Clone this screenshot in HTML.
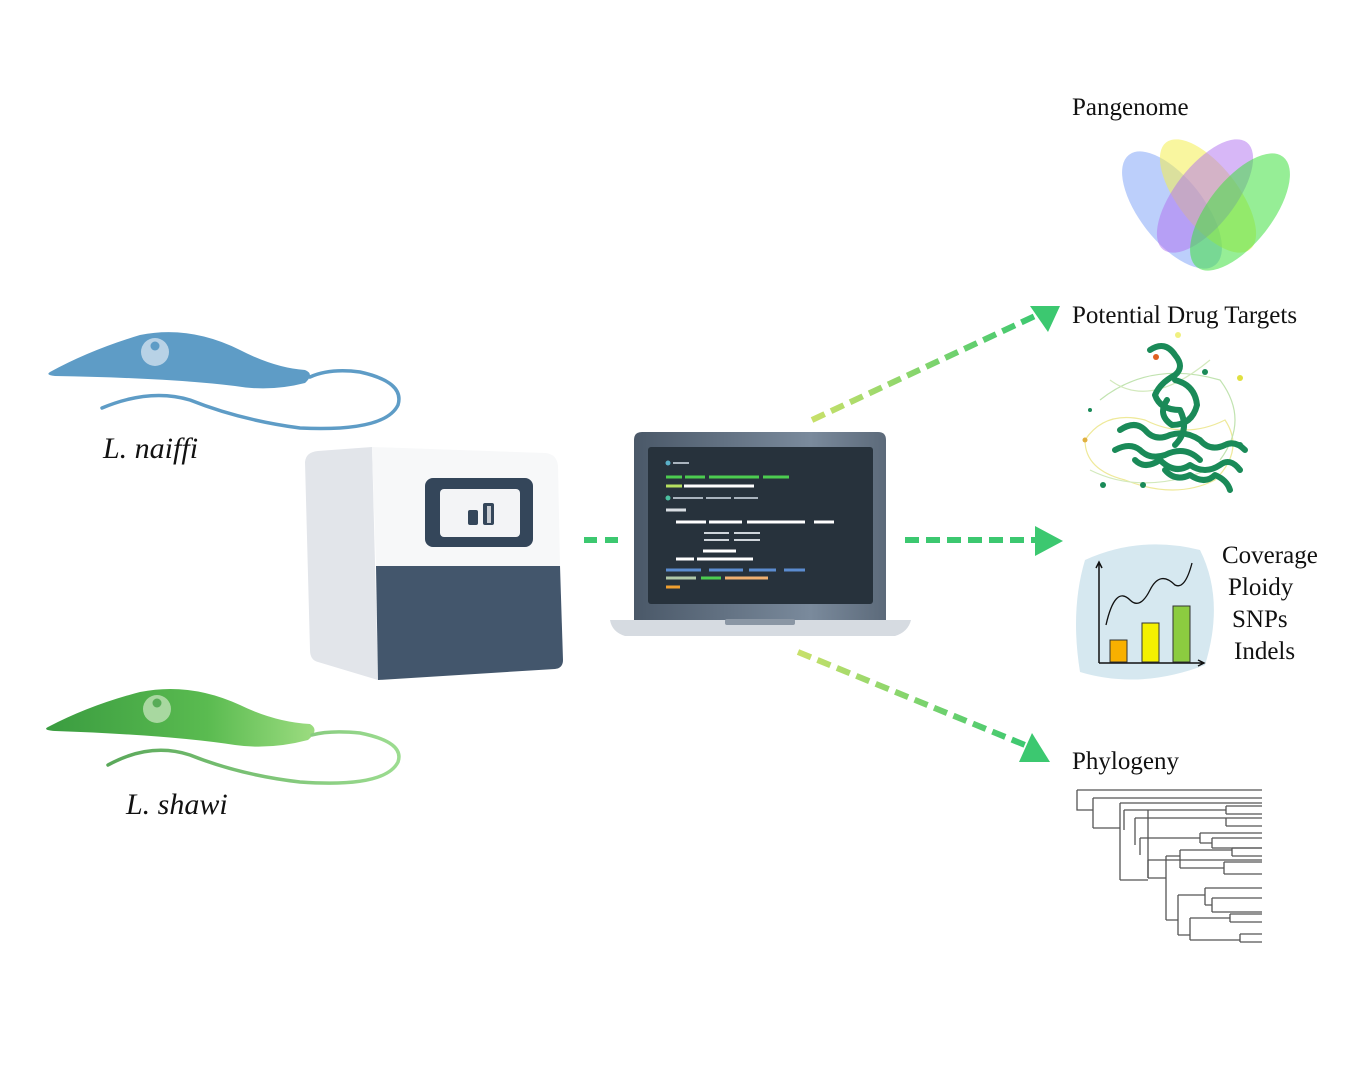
<!DOCTYPE html>
<html><head><meta charset="utf-8"><style>
body{margin:0;background:#fff}
svg{display:block}
text{font-family:"Liberation Serif",serif;fill:#111}
</style></head><body>
<svg width="1350" height="1080" viewBox="0 0 1350 1080" xmlns="http://www.w3.org/2000/svg">
<defs>
<linearGradient id="ga" x1="0" y1="0" x2="1" y2="0"><stop offset="0" stop-color="#c8e06a"/><stop offset="1" stop-color="#3cc870"/></linearGradient>
<linearGradient id="gs" x1="0" y1="0" x2="1" y2="0"><stop offset="0" stop-color="#3a9c40"/><stop offset="0.6" stop-color="#5abb50"/><stop offset="1" stop-color="#9cdc80"/></linearGradient>
<linearGradient id="gf" x1="0" y1="0" x2="1" y2="0"><stop offset="0" stop-color="#5aa85a"/><stop offset="1" stop-color="#9cdc90"/></linearGradient>
<linearGradient id="lid" x1="0" y1="0" x2="1" y2="0"><stop offset="0" stop-color="#4a5868"/><stop offset="0.7" stop-color="#7a8a9c"/><stop offset="1" stop-color="#5c6a7a"/></linearGradient>
</defs>
<rect width="1350" height="1080" fill="#fff"/>

<!-- L. naiffi -->
<path d="M50 372 Q90 350 140 335 Q190 325 240 350 Q275 368 305 370 Q315 374 305 383 Q270 392 235 386 Q170 378 55 376 Q45 375 50 372Z" fill="#5e9cc6"/>
<circle cx="155" cy="352" r="14" fill="#b8d2e6"/><circle cx="155" cy="346" r="4.5" fill="#5e9cc6"/>
<path d="M310 377 Q330 368 360 372 Q405 382 398 405 Q385 432 300 428 Q240 420 190 400 Q150 388 102 408" fill="none" stroke="#5e9cc6" stroke-width="3.5" stroke-linecap="round"/>
<text x="103" y="458" font-size="30" font-style="italic">L. naiffi</text>

<!-- L. shawi -->
<path d="M48 727 Q90 705 140 692 Q190 682 240 705 Q275 722 310 724 Q320 730 308 740 Q270 750 235 745 Q170 735 55 731 Q42 730 48 727Z" fill="url(#gs)"/>
<circle cx="157" cy="709" r="14" fill="#a8d8a0"/><circle cx="157" cy="703" r="4.5" fill="#58ac58"/>
<path d="M312 735 Q330 730 360 733 Q405 742 398 762 Q385 788 300 782 Q240 775 190 755 Q150 742 108 765" fill="none" stroke="url(#gf)" stroke-width="3.5" stroke-linecap="round"/>
<text x="126" y="814" font-size="30" font-style="italic">L. shawi</text>

<!-- Sequencer -->
<path d="M305 462 Q306 452 318 451 L372 447 L378 680 L318 662 Q310 660 310 650Z" fill="#e2e5ea"/>
<path d="M372 447 L545 453 Q557 454 558 466 L560 566 L376 566Z" fill="#f7f8f9"/>
<path d="M376 566 L560 566 L563 660 Q563 668 555 669 L378 680Z" fill="#43566c"/>
<rect x="425" y="478" width="108" height="69" rx="8" fill="#34465a"/>
<rect x="440" y="489" width="80" height="48" rx="4" fill="#f3f4f6"/>
<rect x="468" y="510" width="10" height="15" rx="2" fill="#34465a"/>
<rect x="483" y="503" width="11" height="22" rx="2" fill="#34465a"/>
<rect x="487" y="506" width="4" height="17" fill="#c8ccd2"/>

<path d="M584 540 H622" stroke="#3cc870" stroke-width="6" stroke-dasharray="13 8"/>

<!-- Laptop -->
<path d="M634 440 Q634 432 642 432 L878 432 Q886 432 886 440 L886 621 L634 621Z" fill="url(#lid)"/>
<rect x="648" y="447" width="225" height="157" rx="3" fill="#27323c"/>
<path d="M610 620 L911 620 Q908 632 895 636 L625 636 Q612 632 610 620Z" fill="#d6dbe1"/>
<rect x="725" y="619" width="70" height="6" rx="2" fill="#8a96a4"/>
<g stroke-width="3">
<circle cx="668" cy="463" r="2.5" fill="#5ab0c8"/><path d="M673 463h16" stroke="#aab4be" stroke-width="2"/>
<path d="M666 477h16M685 477h20M709 477h50M763 477h26" stroke="#4ccc50"/>
<path d="M666 486h16" stroke="#b6e060"/><path d="M684 486h70" stroke="#ffffff"/>
<circle cx="668" cy="498" r="2.5" fill="#4cc0a0"/><path d="M673 498h30M706 498h25M734 498h24" stroke="#aab4be" stroke-width="2"/>
<path d="M666 510h20" stroke="#d8dde2"/>
<path d="M676 522h30M709 522h33M747 522h58M814 522h20" stroke="#ffffff"/>
<path d="M704 533h25M734 533h26M704 540h25M734 540h26" stroke="#cfd5db" stroke-width="2"/>
<path d="M703 551h33" stroke="#ffffff"/>
<path d="M676 559h18M697 559h56" stroke="#ffffff"/>
<path d="M666 570h35M709 570h34M749 570h27M784 570h21" stroke="#5b8cd0"/>
<path d="M666 578h30" stroke="#b0c8a8"/><path d="M701 578h20" stroke="#4ccc50"/><path d="M725 578h43" stroke="#f0b070"/>
<path d="M666 587h14" stroke="#f0a030"/>
</g>

<!-- arrows -->
<path d="M812 420 L1035 316" stroke="url(#ga)" stroke-width="6" stroke-dasharray="14 7"/>
<path d="M1030 306 L1060 306 L1048 332Z" fill="#3cc870"/>
<path d="M905 540 H1036" stroke="#3cc870" stroke-width="6" stroke-dasharray="14 7"/>
<path d="M1035 526 L1063 541 L1035 556Z" fill="#3cc870"/>
<path d="M798 652 L1025 745" stroke="url(#ga)" stroke-width="6" stroke-dasharray="14 7"/>
<path d="M1032 733 L1050 762 L1019 762Z" fill="#3cc870"/>

<!-- Pangenome -->
<text x="1072" y="115" font-size="25">Pangenome</text>
<ellipse cx="1172" cy="210" rx="32" ry="70" fill="#7aa0f8" opacity="0.5" transform="rotate(-38 1172 210)"/>
<ellipse cx="1208" cy="196" rx="30" ry="68" fill="#f4ee50" opacity="0.55" transform="rotate(-38 1208 196)"/>
<ellipse cx="1205" cy="196" rx="30" ry="68" fill="#b070f0" opacity="0.5" transform="rotate(38 1205 196)"/>
<ellipse cx="1240" cy="212" rx="32" ry="70" fill="#40e040" opacity="0.55" transform="rotate(38 1240 212)"/>

<!-- Drug targets -->
<text x="1072" y="323" font-size="25">Potential Drug Targets</text>
<g fill="none" stroke-width="1.2" opacity="0.7">
<path d="M1085 440 q20 -30 60 -20 q40 20 80 0 q20 30 -10 60 q-40 20 -90 0 q-40 -10 -40 -40" stroke="#e8e070"/>
<path d="M1100 400 q50 -40 120 -20 q30 40 0 80" stroke="#a8d890"/>
<path d="M1110 380 q40 30 100 -20 M1090 470 q60 30 140 -10" stroke="#c0e0a0"/>
</g>
<g fill="none" stroke="#1a8a58" stroke-width="6" stroke-linecap="round" stroke-linejoin="round">
<path d="M1150 350 q15 -10 25 5 q10 12 0 20 q-15 8 -20 20 q5 15 25 15 q10 20 -5 35"/>
<path d="M1175 380 q20 5 22 25 q-5 20 -25 20 q-15 -10 -5 -25"/>
<path d="M1120 430 q15 -10 25 0 q10 12 25 5 q15 -5 30 5 q10 12 25 5 q10 -5 20 5"/>
<path d="M1115 450 q15 -8 25 0 q10 10 25 5 q20 -10 35 5"/>
<path d="M1135 460 q10 10 25 0 q15 15 30 5 q15 10 30 0 q10 -8 20 5"/>
<path d="M1165 470 q10 12 25 5 q15 10 25 0 q12 5 15 15"/>
</g>
<g fill="#1a8a58"><circle cx="1103" cy="485" r="3"/><circle cx="1143" cy="485" r="3"/><circle cx="1205" cy="372" r="3"/><circle cx="1090" cy="410" r="2"/><circle cx="1240" cy="445" r="3"/></g>
<circle cx="1240" cy="378" r="3" fill="#e0e040"/><circle cx="1156" cy="357" r="3" fill="#e06020"/><circle cx="1085" cy="440" r="2.5" fill="#e0b040"/><circle cx="1178" cy="335" r="3" fill="#f0f080"/>

<!-- Coverage chart -->
<path d="M1085 560 Q1140 535 1200 550 Q1225 600 1205 665 Q1140 690 1080 672 Q1070 610 1085 560Z" fill="#d6e8f0"/>
<path d="M1099 663 V563 M1096 568 L1099 562 L1102 568" stroke="#111" stroke-width="1.5" fill="none"/>
<path d="M1099 663 H1204 M1198 660 L1204 663 L1198 666" stroke="#111" stroke-width="1.5" fill="none"/>
<path d="M1106 625 Q1115 585 1130 600 Q1140 610 1150 590 Q1160 570 1175 585 Q1185 590 1192 563" stroke="#111" stroke-width="1.3" fill="none"/>
<rect x="1110" y="640" width="17" height="22" fill="#f8b000" stroke="#333"/>
<rect x="1142" y="623" width="17" height="39" fill="#f4f000" stroke="#333"/>
<rect x="1173" y="606" width="17" height="56" fill="#8ccc40" stroke="#333"/>
<text x="1222" y="563" font-size="25">Coverage</text>
<text x="1228" y="595" font-size="25">Ploidy</text>
<text x="1232" y="627" font-size="25">SNPs</text>
<text x="1234" y="659" font-size="25">Indels</text>

<!-- Phylogeny -->
<text x="1072" y="769" font-size="25">Phylogeny</text>
<g stroke="#555" stroke-width="1.3" fill="none">
<path d="M1077 790 H1262 M1077 790 V810 H1093 M1093 798 V828 M1093 798 H1262 M1093 828 H1120 M1120 803 V880"/>
<path d="M1120 803 H1262"/>
<path d="M1120 880 H1148 M1148 810 V878"/>
<path d="M1148 810 H1124 M1124 810 V830 M1124 810 H1226 M1226 806 V814 M1226 806 H1262 M1226 814 H1262"/>
<path d="M1135 818 V845 M1135 818 H1226 M1226 818 V826 M1226 818 H1262 M1226 826 H1262"/>
<path d="M1140 838 V855 M1140 838 H1200 M1200 833 V843 M1200 833 H1262 M1200 843 H1212 M1212 838 V848 M1212 838 H1262 M1212 848 H1262"/>
<path d="M1148 860 V878 M1148 860 H1262 M1148 878 H1166 M1166 856 V920"/>
<path d="M1166 856 H1180 M1180 850 V868 M1180 850 H1232 M1232 848 V856 M1232 848 H1262 M1232 856 H1262 M1180 868 H1224 M1224 862 V874 M1224 862 H1262 M1224 874 H1262"/>
<path d="M1166 920 H1178 M1178 895 V935"/>
<path d="M1178 895 H1205 M1205 888 V905 M1205 888 H1262 M1205 905 H1212 M1212 898 V912 M1212 898 H1262 M1212 912 H1262"/>
<path d="M1178 935 H1190 M1190 918 V940 M1190 918 H1230 M1230 914 V922 M1230 914 H1262 M1230 922 H1262 M1190 940 H1240 M1240 934 V942 M1240 934 H1262 M1240 942 H1262"/>
</g>
</svg>
</body></html>
